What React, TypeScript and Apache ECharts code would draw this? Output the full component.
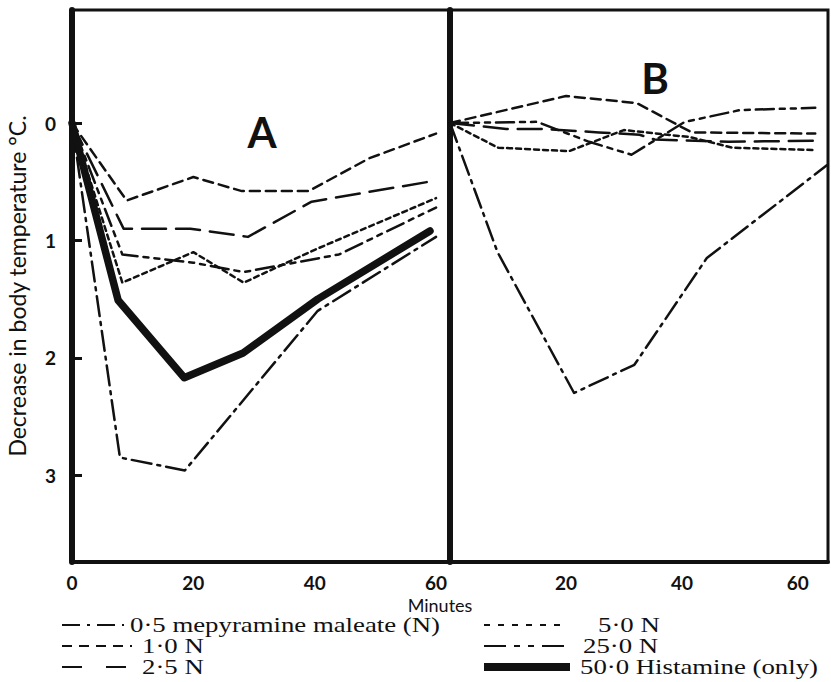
import React, { useEffect, useRef } from "react";
import * as echarts from "echarts";

// ---- data (minutes, decrease in °C) ----
const A_05 = [[0, 0], [7.9, 2.85], [18.6, 2.96], [40.5, 1.6], [60, 0.97]];
const A_10 = [[0, 0], [9, 0.66], [20, 0.46], [28, 0.58], [39, 0.58], [49, 0.3], [60, 0.09]];
const A_25 = [[0, 0], [8.5, 0.9], [19.5, 0.9], [29, 0.97], [39.5, 0.67], [60, 0.49]];
const A_50 = [[0, 0], [8.3, 1.36], [20, 1.1], [28.3, 1.36], [40, 1.08], [50, 0.86], [60, 0.64]];
const A_250 = [[0, 0], [8.3, 1.12], [20, 1.19], [28.3, 1.27], [44, 1.12], [60, 0.72]];
const A_HIST = [[0, 0], [7.6, 1.51], [18.5, 2.17], [28.2, 1.96], [40.5, 1.5], [59, 0.92]];

const B_05 = [[0, 0], [8.2, 1.1], [21.4, 2.3], [31.8, 2.06], [44.3, 1.15], [65, 0.36]];
const B_10 = [[0, 0], [20, -0.23], [32.2, -0.17], [41.7, 0.08], [63, 0.09]];
const B_25 = [[0, 0], [9.7, 0.05], [15.8, 0.05], [25.7, 0.08], [32.7, 0.1], [35.3, 0.14], [48, 0.16], [63, 0.15]];
const B_50 = [[0, 0], [8.3, 0.21], [20.5, 0.24], [30, 0.06], [41.4, 0.12], [48.7, 0.21], [63, 0.23]];
const B_250 = [[0, 0], [15, -0.01], [24, 0.16], [31.3, 0.27], [40.5, -0.01], [50, -0.11], [63, -0.13]];

const X_TICKS_A = [0, 20, 40, 60];
const X_TICKS_B = [20, 40, 60];
const Y_TICKS = [0, 1, 2, 3];

const LEGEND_LABELS = [
  "0·5 mepyramine maleate (N)",
  "1·0 N",
  "2·5 N",
  "5·0 N",
  "25·0 N",
  "50·0 Histamine (only)",
];

const DASH_05 = [20, 6, 3, 6];
const DASH_10 = [10, 6];
const DASH_25 = [24, 10];
const DASH_50 = [5, 4];
const DASH_250 = [18, 6, 5, 6, 5, 6];

const SANS = "Lato, 'Open Sans', sans-serif";
const SERIF = "'Liberation Serif', 'DejaVu Serif', serif";

function lineSeries(name: string, data: number[][], idx: number, dash: number[] | "solid", width = 2.5) {
  return {
    name,
    type: "line",
    xAxisIndex: idx,
    yAxisIndex: idx,
    data,
    symbol: "none",
    showSymbol: false,
    silent: true,
    lineStyle: { color: "#111", width, type: dash, cap: "round", join: "round" },
    z: 3,
  };
}

export default function App() {
  const ref = useRef<HTMLDivElement>(null);
  useEffect(() => {
    if (!ref.current) return;
    const chart = echarts.init(ref.current, null, { renderer: "svg" });

    const yAxisBase = {
      type: "value",
      min: -0.963,
      max: 3.74,
      inverse: true,
      splitLine: { show: false },
    };
    const xLabel = {
      fontFamily: SANS,
      fontWeight: "bold",
      fontSize: 19,
      color: "#111",
      margin: 11,
    };

    const legendRowsY = [625, 646, 667];
    const legendGraphics: any[] = [];
    legendGraphics.push(
      { type: "line", shape: { x1: 62, y1: legendRowsY[0], x2: 124, y2: legendRowsY[0] }, style: { stroke: "#111", lineWidth: 2, lineDash: [18, 7, 3, 7] } },
      { type: "line", shape: { x1: 62, y1: legendRowsY[1], x2: 132, y2: legendRowsY[1] }, style: { stroke: "#111", lineWidth: 2, lineDash: [10, 7] } },
      { type: "line", shape: { x1: 62, y1: legendRowsY[2], x2: 126, y2: legendRowsY[2] }, style: { stroke: "#111", lineWidth: 2, lineDash: [20, 24] } },
      { type: "line", shape: { x1: 484, y1: legendRowsY[0], x2: 564, y2: legendRowsY[0] }, style: { stroke: "#111", lineWidth: 2, lineDash: [6, 8] } },
      { type: "line", shape: { x1: 484, y1: legendRowsY[1], x2: 564, y2: legendRowsY[1] }, style: { stroke: "#111", lineWidth: 2, lineDash: [22, 8, 6, 8, 6, 8] } },
      { type: "line", shape: { x1: 484, y1: legendRowsY[2], x2: 570, y2: legendRowsY[2] }, style: { stroke: "#111", lineWidth: 8 } }
    );
    const textPos = [
      [130, 0], [142, 1], [142, 2], [598, 0], [583, 1], [580, 2],
    ];
    LEGEND_LABELS.forEach((t, i) => {
      legendGraphics.push({
        type: "text",
        x: textPos[i][0],
        y: legendRowsY[textPos[i][1]],
        scaleX: 1.34,
        style: {
          text: t,
          fontFamily: SERIF,
          fontSize: 20,
          fill: "#111",
          textVerticalAlign: "middle",
          textAlign: "left",
        },
      });
    });

    chart.setOption({
      animation: false,
      backgroundColor: "#fff",
      grid: [
        { left: 72, top: 10, width: 378, height: 552, show: true, borderColor: "#111", borderWidth: 3, backgroundColor: "transparent" },
        { left: 450, top: 10, width: 378, height: 552, show: true, borderColor: "#111", borderWidth: 3, backgroundColor: "transparent" },
      ],
      xAxis: [
        {
          type: "value",
          gridIndex: 0,
          min: 0,
          max: 62.3,
          splitLine: { show: false },
          axisTick: { show: false },
          axisLine: { show: true, onZero: false, lineStyle: { color: "#111", width: 4 } },
          axisLabel: { ...xLabel, customValues: X_TICKS_A },
        },
        {
          type: "value",
          gridIndex: 1,
          min: 0,
          max: 65.2,
          splitLine: { show: false },
          axisTick: { show: false },
          axisLine: { show: true, onZero: false, lineStyle: { color: "#111", width: 4 } },
          axisLabel: { ...xLabel, customValues: X_TICKS_B },
        },
      ],
      yAxis: [
        {
          ...yAxisBase,
          gridIndex: 0,
          name: "Decrease in body temperature °C.",
          nameLocation: "middle",
          nameGap: 44,
          nameRotate: 90,
          nameTextStyle: { fontFamily: SANS, fontSize: 23, color: "#111" },
          axisLine: { show: true, onZero: false, lineStyle: { color: "#111", width: 6 } },
          axisTick: { show: true, inside: true, length: 10, lineStyle: { color: "#111", width: 3 }, customValues: Y_TICKS },
          axisLabel: { fontFamily: SANS, fontWeight: "bold", fontSize: 19, color: "#111", margin: 16, customValues: Y_TICKS },
        },
        {
          ...yAxisBase,
          gridIndex: 1,
          axisLine: { show: true, onZero: false, lineStyle: { color: "#111", width: 6 } },
          axisTick: { show: false },
          axisLabel: { show: false },
        },
      ],
      series: [
        lineSeries(LEGEND_LABELS[0], A_05, 0, DASH_05),
        lineSeries(LEGEND_LABELS[1], A_10, 0, DASH_10),
        lineSeries(LEGEND_LABELS[2], A_25, 0, DASH_25),
        lineSeries(LEGEND_LABELS[3], A_50, 0, DASH_50),
        lineSeries(LEGEND_LABELS[4], A_250, 0, DASH_250),
        lineSeries(LEGEND_LABELS[5], A_HIST, 0, "solid", 7.5),
        lineSeries(LEGEND_LABELS[0], B_05, 1, DASH_05),
        lineSeries(LEGEND_LABELS[1], B_10, 1, DASH_10),
        lineSeries(LEGEND_LABELS[2], B_25, 1, DASH_25),
        lineSeries(LEGEND_LABELS[3], B_50, 1, DASH_50),
        lineSeries(LEGEND_LABELS[4], B_250, 1, DASH_250),
      ],
      graphic: [
        {
          type: "text",
          x: 262,
          y: 132,
          style: { text: "A", fontFamily: SANS, fontWeight: "bold", fontSize: 42, fill: "#111", textAlign: "center", textVerticalAlign: "middle" },
        },
        {
          type: "text",
          x: 655,
          y: 78,
          style: { text: "B", fontFamily: SANS, fontWeight: "bold", fontSize: 42, fill: "#111", textAlign: "center", textVerticalAlign: "middle" },
        },
        {
          type: "text",
          x: 440,
          y: 605,
          style: { text: "Minutes", fontFamily: SANS, fontSize: 18, fill: "#111", textAlign: "center", textVerticalAlign: "middle" },
        },
        ...legendGraphics,
      ],
    });
    return () => chart.dispose();
  }, []);
  return (
    <div
      ref={ref}
      style={{ position: "fixed", left: 0, top: 0, width: 831, height: 682, background: "#fff" }}
    />
  );
}
